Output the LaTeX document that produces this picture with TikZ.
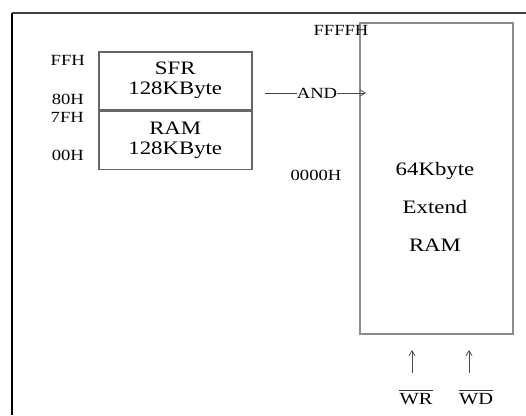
\documentclass[tikz,border=0pt]{standalone}
\usepackage{fontspec}
\setmainfont{Liberation Serif}[FakeStretch=1.2]
\usetikzlibrary{arrows.meta,positioning}

\begin{document}
\begin{tikzpicture}[
  x=1pt, y=-1pt,
  font=\fontsize{19}{20}\selectfont,
  membox/.style={draw=black!60, line width=1.5pt, minimum width=153pt, align=center, inner sep=0pt},
  addr/.style={font=\fontsize{15.5}{17}\selectfont, inner sep=0pt},
  sig/.style={font=\fontsize{17}{19}\selectfont, inner sep=0pt},
  bar/.style={line width=1pt, black!80},
  arr/.style={-{Straight Barb[length=5pt,width=6pt]}, draw=black!70, line width=0.8pt}
]
  \useasboundingbox (0,0) rectangle (526,415);
  % frame
  \draw[black!75, line width=1.6pt] (12,13) -- (526,13);
  \draw[black, line width=2pt] (12,13) -- (12,415);
  % internal RAM
  \node[membox, minimum height=58pt, anchor=north west] (sfr) at (98,51) {SFR\\128KByte};
  \node[membox, minimum height=58pt, anchor=north] (ram) at (sfr.south) {RAM\\128KByte};
  \node[addr, anchor=east] (ffh) at (85,60) {FFH};
  \node[addr, anchor=east] (h80) at (84,99) {80H};
  \node[addr, anchor=east] (h7f) at (84,117) {7FH};
  \node[addr, anchor=east] (h00) at (84,155) {00H};
  % external RAM
  \node[membox, draw=black!45, minimum height=311pt, anchor=north west] (ext) at (359,22) {};
  \node[align=center, font=\fontsize{19}{38}\selectfont] (exttxt) at (435,207) {64Kbyte\\Extend\\RAM};
  \node[addr] (ffffh) at (341,30) {FFFFH};
  \node[addr] (h0000) at (316,175) {0000H};
  % AND link
  \node[addr] (and) at (317,93) {AND};
  \coordinate (andin) at (265,93);
  \draw[black!75, line width=0.8pt] (andin) -- (and.west);
  \draw[arr] (and.east) -- ([xshift=7pt]ext.west |- and);
  % control signals
  \node[sig] (wr) at (416,399) {WR};
  \node[sig] (wd) at (476,399) {WD};
  \draw[bar] ([yshift=3pt]wr.north west) -- ([yshift=3pt]wr.north east);
  \draw[bar] ([yshift=3pt]wd.north west) -- ([yshift=3pt]wd.north east);
  \coordinate (wrtail) at (412,373);
  \coordinate (wrtip) at (412,350);
  \coordinate (wdtail) at (469,373);
  \coordinate (wdtip) at (469,350);
  \draw[arr] (wrtail) -- (wrtip);
  \draw[arr] (wdtail) -- (wdtip);
\end{tikzpicture}
\end{document}
